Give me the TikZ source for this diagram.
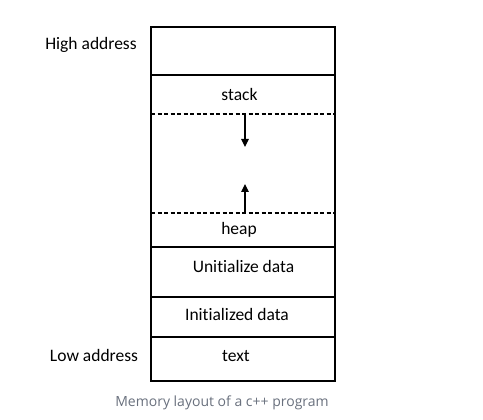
\documentclass[tikz,border=0pt]{standalone}
\usepackage{fontspec}
\setmainfont{Carlito}[Ligatures=NoCommon]
\newfontfamily\capfont{Open Sans}
\usetikzlibrary{arrows.meta}
\definecolor{capgray}{RGB}{105,112,125}
\tikzset{
  seg/.style={draw=black, line width=1.2pt},
  sep/.style={draw=black, line width=1.2pt},
  dsep/.style={draw=black, line width=1.2pt, dash pattern=on 4pt off 2.5pt},
  lbl/.style={font=\fontsize{17.5}{19}\selectfont, text=black, inner sep=0pt, anchor=center},
  growarrow/.style={draw=black, line width=1.2pt, -{Triangle[length=8pt,width=7.5pt]}},
  captxt/.style={font=\capfont\fontsize{14}{16}\selectfont, text=capgray, inner sep=0pt}
}
\begin{document}
\begin{tikzpicture}[x=1pt,y=-1pt]
\useasboundingbox (0,0) rectangle (483,420);
% outer box
\draw[seg] (151,27) rectangle (335,381);
% separators
\draw[sep] (151,75) -- (335,75);
\draw[dsep] (151,114) -- (335,114);
\draw[dsep] (151,213) -- (335,213);
\draw[sep] (151,247) -- (335,247);
\draw[sep] (151,297) -- (335,297);
\draw[sep] (151,337) -- (335,337);
% labels
\node[lbl] (stack) at (239.5,94) {stack};
\node[lbl] (heap) at (239,230) {heap};
\node[lbl] (udata) at (243.5,266) {Unitialize data};
\node[lbl] (idata) at (237,314) {Initialized data};
\node[lbl] (txt) at (236,356) {text};
\node[lbl] (high) at (91,45) {High address};
\node[lbl] (low) at (94,355) {Low address};
% growth arrows
\coordinate (sdown0) at (245,114);
\coordinate (sdown1) at (245,147);
\coordinate (hup0) at (245,213);
\coordinate (hup1) at (245,184);
\draw[growarrow] (sdown0) -- (sdown1);
\draw[growarrow] (hup0) -- (hup1);
% caption
\node[captxt] (cap) at (222,403) {Memory layout of a c++ program};
\end{tikzpicture}
\end{document}
